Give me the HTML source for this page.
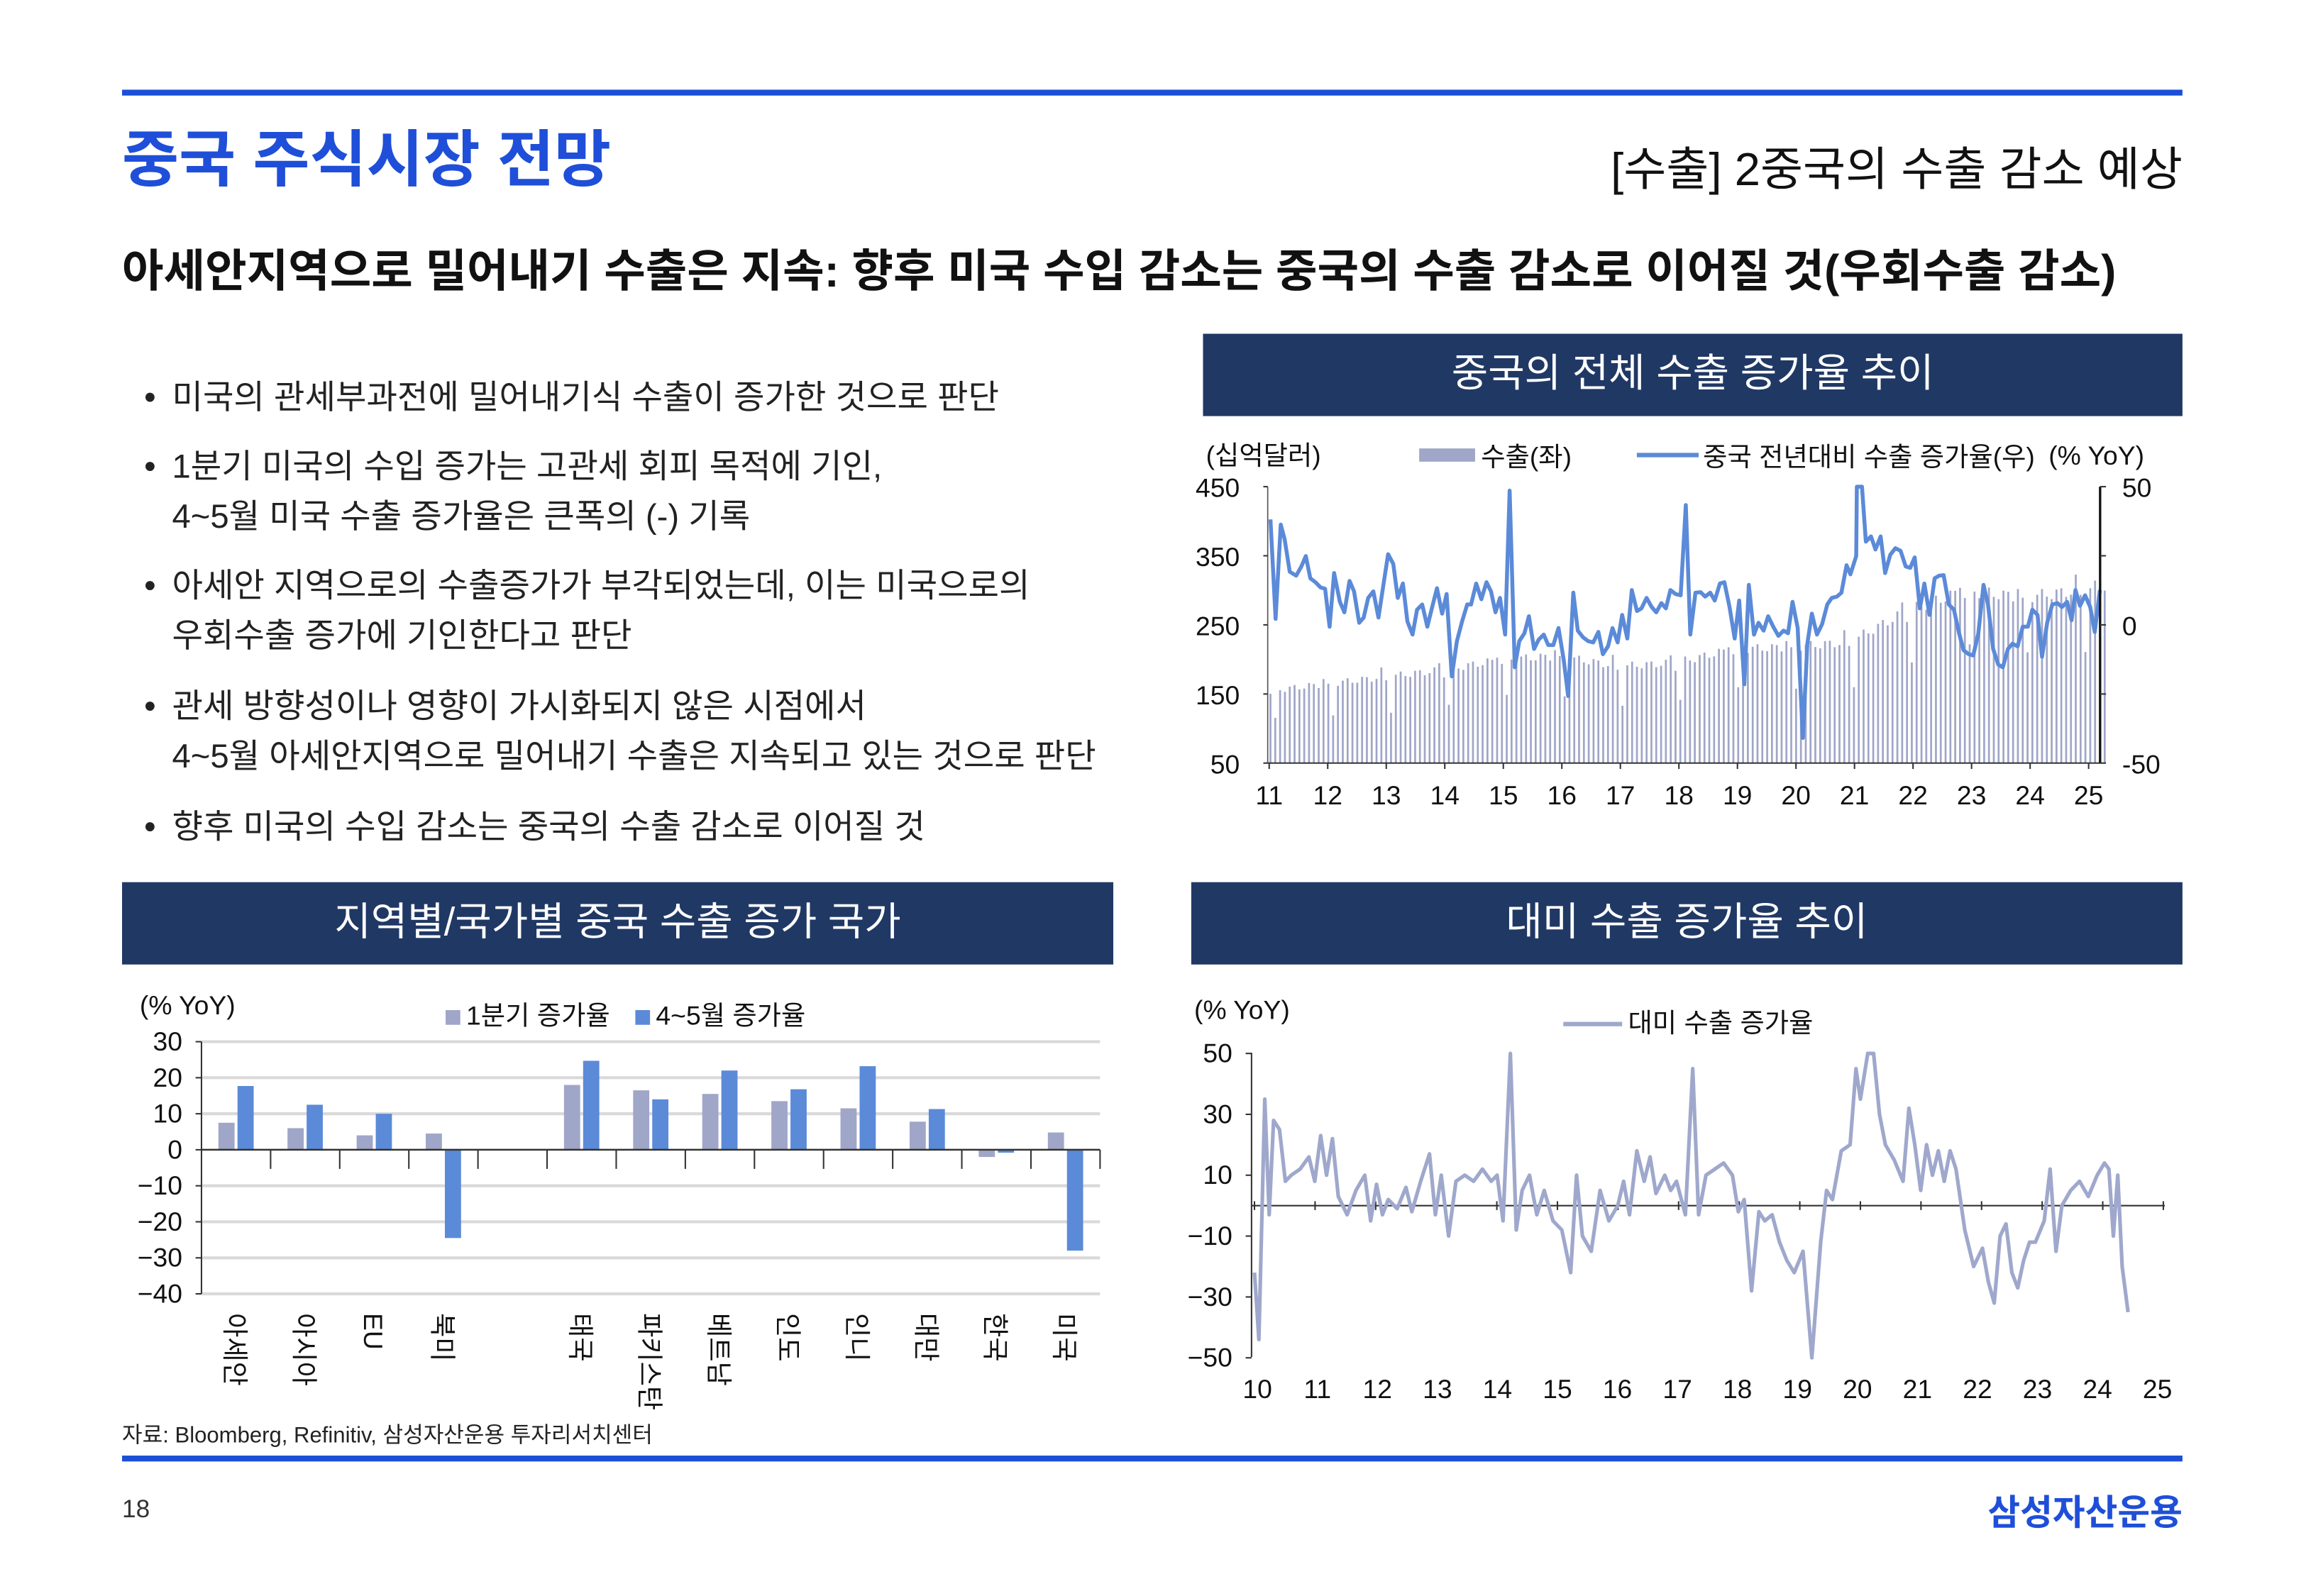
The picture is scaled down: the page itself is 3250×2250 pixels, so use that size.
<!DOCTYPE html>
<html><head><meta charset="utf-8">
<style>
html,body{margin:0;padding:0;background:#fff;}
svg{display:block;font-family:"Liberation Sans","Noto Sans CJK KR",sans-serif;}
</style></head>
<body>
<svg id="s" width="3250" height="2250" viewBox="0 0 1568 1085.5" preserveAspectRatio="none" xmlns="http://www.w3.org/2000/svg">
<rect width="1568" height="1086" fill="#fff"/>
<!-- header -->
<rect x="83" y="61" width="1401" height="4" fill="#1a4fd6"/>
<text x="83" y="123" font-size="42" font-weight="bold" fill="#1f4fd8">중국 주식시장 전망</text>
<text x="1484" y="126" font-size="31.5" text-anchor="end" fill="#111">[수출] 2중국의 수출 감소 예상</text>
<text x="83" y="195" font-size="30.7" font-weight="bold" fill="#111">아세안지역으로 밀어내기 수출은 지속: 향후 미국 수입 감소는 중국의 수출 감소로 이어질 것(우회수출 감소)</text>
<!-- bullets -->
<g font-size="22.8" fill="#222">
<text x="98" y="278">•</text><text x="117" y="278">미국의 관세부과전에 밀어내기식 수출이 증가한 것으로 판단</text>
<text x="98" y="325">•</text><text x="117" y="325">1분기 미국의 수입 증가는 고관세 회피 목적에 기인,</text>
<text x="117" y="359">4~5월 미국 수출 증가율은 큰폭의 (-) 기록</text>
<text x="98" y="406">•</text><text x="117" y="406">아세안 지역으로의 수출증가가 부각되었는데, 이는 미국으로의</text>
<text x="117" y="440">우회수출 증가에 기인한다고 판단</text>
<text x="98" y="488">•</text><text x="117" y="488">관세 방향성이나 영향이 가시화되지 않은 시점에서</text>
<text x="117" y="522">4~5월 아세안지역으로 밀어내기 수출은 지속되고 있는 것으로 판단</text>
<text x="98" y="570">•</text><text x="117" y="570">향후 미국의 수입 감소는 중국의 수출 감소로 이어질 것</text>
</g>
<!-- section headers -->
<rect x="818" y="227" width="666" height="56" fill="#203864"/>
<text x="1151" y="263" font-size="27" fill="#fff" text-anchor="middle">중국의 전체 수출 증가율 추이</text>
<rect x="83" y="600" width="674" height="56" fill="#203864"/>
<text x="420" y="636" font-size="27" fill="#fff" text-anchor="middle">지역별/국가별 중국 수출 증가 국가</text>
<rect x="810" y="600" width="674" height="56" fill="#203864"/>
<text x="1147" y="636" font-size="27" fill="#fff" text-anchor="middle">대미 수출 증가율 추이</text>

<!-- chart 1 -->
<g font-size="18" fill="#111">
<text x="820" y="316">(십억달러)</text>
<rect x="965" y="305" width="38" height="9" fill="#a0a6c8"/>
<text x="1007" y="317">수출(좌)</text>
<rect x="1113" y="308" width="42" height="3" fill="#5b8ad8"/>
<text x="1158" y="317">중국 전년대비 수출 증가율(우)</text>
<text x="1393" y="316">(% YoY)</text>
<g text-anchor="end"><text x="843" y="338">450</text><text x="843" y="385">350</text><text x="843" y="432">250</text><text x="843" y="479">150</text><text x="843" y="526">50</text></g>
<text x="1443" y="338">50</text><text x="1443" y="432">0</text><text x="1443" y="526">-50</text>
<g id="c1x" text-anchor="middle"></g>
</g>
<g id="c1bars" transform="translate(811.4,288.3) scale(0.4372,0.178)"></g>
<g transform="translate(811.4,288.3) scale(0.4372,0.178)">
<polyline id="c1line" fill="none" stroke="#5b8ad8" stroke-width="5.5" vector-effect="non-scaling-stroke" stroke-linejoin="round" points=""/>
</g>
<line x1="862" y1="331" x2="862" y2="519" stroke="#555" stroke-width="0.8"/>
<line x1="862" y1="519" x2="1428" y2="519" stroke="#333" stroke-width="1"/>
<line x1="1428" y1="331" x2="1428" y2="519" stroke="#111" stroke-width="1.6"/>
<g id="c1t" stroke="#333" stroke-width="1"></g>

<!-- chart 2 -->
<g font-size="18" fill="#111">
<text x="95" y="690">(% YoY)</text>
<rect x="303" y="687" width="10" height="10" fill="#a0a6c8"/>
<text x="317" y="697">1분기 증가율</text>
<rect x="432" y="687" width="10" height="10" fill="#5b8ad8"/>
<text x="446" y="697">4~5월 증가율</text>
</g>
<g id="c2" font-size="18" fill="#111"></g>

<!-- chart 3 -->
<g font-size="18" fill="#111">
<text x="812" y="693">(% YoY)</text>
<rect x="1063" y="695" width="40" height="3" fill="#9fa8cc"/>
<text x="1107" y="702">대미 수출 증가율</text>
</g>
<g id="c3" font-size="18" fill="#111"></g>

<!-- footer -->
<text x="83" y="981" font-size="15" fill="#222">자료: Bloomberg, Refinitiv, 삼성자산운용 투자리서치센터</text>
<rect x="83" y="990" width="1401" height="4" fill="#1a4fd6"/>
<text x="83" y="1032" font-size="17" fill="#333">18</text>
<text x="1484" y="1037" font-size="24" font-weight="bold" fill="#1f4fd8" text-anchor="end">삼성자산운용</text>
</svg>
<script>
var NS="http://www.w3.org/2000/svg";
function el(p,t,a,txt){var e=document.createElementNS(NS,t);for(var k in a)e.setAttribute(k,a[k]);if(txt!==undefined)e.textContent=txt;p.appendChild(e);return e;}
var c1x=document.getElementById('c1x'),c1t=document.getElementById('c1t');
for(var i=0;i<15;i++){var x=863+i*39.8;el(c1x,'text',{x:x,y:547},String(11+i));el(c1t,'line',{x1:x,y1:519,x2:x,y2:523});}
[331,378,425,472,519].forEach(function(y){el(c1t,'line',{x1:859,y1:y,x2:862,y2:y});el(c1t,'line',{x1:1428,y1:y,x2:1432,y2:y});});
var bars=document.getElementById('c1bars');
var lv=[[0,155],[2,175],[3,185],[4,200],[5,205],[6,190],[7,195],[8,215],[9,218],[10,225],[11,270],[12,300],[13,290],[14,300],[14.5,310]];
function lvl(t){for(var i=0;i<lv.length-1;i++){if(t<=lv[i+1][0]){var a=lv[i],b=lv[i+1];return a[1]+(b[1]-a[1])*(t-a[0])/(b[0]-a[0]);}}return lv[lv.length-1][1];}
for(var m=0;m<174;m++){var t=m/12;var v=lvl(t);var mo=m%12;if(mo==1)v*=0.72;else if(mo==0)v*=0.97;else if(mo==11)v*=1.05;v*=1+0.03*Math.sin(m*1.7);
var dx=120+m*7.5;var yy=1296-(v-50)*2.64;el(bars,'rect',{x:dx-1.5,y:yy,width:3,height:1296-yy,fill:'#a0a6c8'});}
var pts=[120,365,128,745,136,385,142,440,150,565,160,580,168,545,175,505,182,590,190,605,198,625,205,630,212,775,219,570,228,680,235,720,243,600,250,640,258,760,265,740,272,665,280,640,288,740,296,610,303,498,311,535,318,665,326,610,333,755,341,805,348,710,356,690,364,775,371,705,379,628,387,725,394,650,402,965,410,830,418,755,426,690,432,690,440,610,448,670,456,605,463,640,470,720,477,665,485,805,492,255,500,930,507,830,515,800,522,735,530,860,537,825,545,805,552,845,560,845,568,780,576,900,583,1040,591,645,598,790,606,815,614,830,622,835,630,795,637,880,645,850,652,780,660,835,667,730,675,820,682,635,690,715,697,705,705,665,713,700,720,720,728,685,735,705,742,635,750,650,758,655,766,310,773,805,781,645,789,643,796,660,804,645,811,675,819,610,826,605,834,700,842,820,849,675,857,995,864,615,872,805,879,760,887,790,894,735,902,775,910,810,918,790,925,800,932,680,940,780,948,1200,955,840,962,725,970,805,978,765,986,690,993,665,1001,660,1008,645,1016,540,1022,575,1031,505,1032,240,1040,240,1046,450,1054,430,1061,480,1069,430,1076,570,1084,500,1092,475,1100,485,1108,545,1115,550,1122,510,1130,705,1137,610,1145,730,1153,590,1160,580,1167,578,1175,690,1183,710,1191,800,1198,865,1206,880,1213,885,1221,800,1229,615,1236,690,1244,860,1252,920,1259,930,1267,860,1274,840,1282,850,1290,775,1298,775,1305,710,1313,730,1320,890,1328,760,1336,690,1344,685,1351,700,1359,680,1366,750,1372,635,1379,695,1387,655,1395,700,1402,795,1410,635];
var s='';for(var i=0;i<pts.length;i+=2)s+=pts[i]+','+pts[i+1]+' ';
document.getElementById('c1line').setAttribute('points',s);

var c2=document.getElementById('c2');
function y2(v){return 782-v*2.45;}
for(var v=30;v>=-40;v-=10){var y=y2(v);if(v!=0)el(c2,'line',{x1:137,y1:y,x2:748,y2:y,stroke:'#d9d9d9','stroke-width':2});
el(c2,'line',{x1:133,y1:y,x2:137,y2:y,stroke:'#333','stroke-width':1});
el(c2,'text',{x:124,y:y+6,'text-anchor':'end'},String(v).replace('-','−'));}
el(c2,'line',{x1:137,y1:y2(30),x2:137,y2:y2(-40),stroke:'#333','stroke-width':1});
var names=['아세안','아시아','EU','북미','','태국','파키스탄','베트남','인도','인니','대만','한국','미국'];
var g=[7.5,6,4,4.5,null,18,16.5,15.5,13.5,11.5,7.8,-2,4.8],b=[17.7,12.5,10,-24.5,null,24.7,14,22,16.8,23.2,11.3,-0.8,-28];
for(var i=0;i<13;i++){var c=137+47*(i+0.5);
if(g[i]!==null){var a=y2(g[i]);el(c2,'rect',{x:c-12,y:Math.min(a,782),width:11,height:Math.abs(a-782),fill:'#a0a6c8'});
a=y2(b[i]);el(c2,'rect',{x:c+1,y:Math.min(a,782),width:11,height:Math.abs(a-782),fill:'#5b8ad8'});}
el(c2,'line',{x1:137+47*(i+1),y1:782,x2:137+47*(i+1),y2:795,stroke:'#333','stroke-width':1});
if(names[i])el(c2,'text',{x:0,y:0,transform:'translate('+(c-7)+',893) rotate(90)'},names[i]);}
el(c2,'line',{x1:137,y1:782,x2:748,y2:782,stroke:'#333','stroke-width':1.2});

var c3=document.getElementById('c3');
function y3(v){return 820-v*2.07;}
[50,30,10,-10,-30,-50].forEach(function(v){var y=y3(v);el(c3,'line',{x1:847,y1:y,x2:851,y2:y,stroke:'#333','stroke-width':1});el(c3,'text',{x:838,y:y+6,'text-anchor':'end'},String(v).replace('-','−'));});
el(c3,'line',{x1:851,y1:716,x2:851,y2:923,stroke:'#333','stroke-width':1});
el(c3,'line',{x1:851,y1:820,x2:1472,y2:820,stroke:'#333','stroke-width':1});
for(var i=0;i<16;i++){var x=855+i*40.8;el(c3,'text',{x:x,y:951,'text-anchor':'middle'},String(10+i));}
for(var i=0;i<=15;i++){var x=853+i*41.2;el(c3,'line',{x1:x,y1:817,x2:x,y2:823,stroke:'#333','stroke-width':1});}
var p3=[853,-22,856,-44,860,35,863,-3,866,28,870,25,874,8,878,10,884,12,890,16,894,8,898,23,902,10,906,22,910,3,916,-3,922,5,928,10,932,-5,936,7,940,-3,944,2,950,-1,956,6,960,-2,966,8,972,17,976,-3,980,10,985,-10,990,8,996,10,1002,8,1008,12,1014,8,1018,10,1022,-5,1027,50,1031,-8,1035,5,1040,10,1045,-3,1050,5,1056,-5,1062,-8,1068,-22,1072,10,1076,-10,1082,-15,1088,5,1094,-5,1100,0,1104,8,1108,-3,1113,18,1118,8,1122,16,1126,4,1132,10,1136,5,1140,8,1146,-3,1151,45,1155,-3,1160,10,1166,12,1172,14,1178,10,1182,-2,1186,2,1191,-28,1196,-2,1200,-5,1205,-3,1210,-12,1215,-18,1220,-22,1226,-15,1232,-50,1238,-12,1242,5,1246,2,1252,18,1258,20,1262,45,1265,35,1270,55,1274,50,1278,30,1282,20,1288,15,1294,8,1298,32,1302,20,1306,5,1310,20,1314,10,1318,18,1322,8,1326,18,1330,12,1336,-8,1342,-20,1348,-14,1352,-25,1356,-32,1360,-10,1364,-6,1368,-22,1372,-27,1376,-18,1380,-12,1384,-12,1390,-5,1394,12,1398,-15,1402,0,1408,5,1414,8,1420,3,1426,10,1431,14,1434,12,1437,-10,1440,10,1443,-20,1447,-35];
var s3='';for(var i=0;i<p3.length;i+=2){var v=Math.max(-50,Math.min(50,p3[i+1]));s3+=p3[i]+','+y3(v)+' ';}
el(c3,'polyline',{points:s3,fill:'none',stroke:'#9fa8cc','stroke-width':2.5,'stroke-linejoin':'round'});
</script>
</body></html>
